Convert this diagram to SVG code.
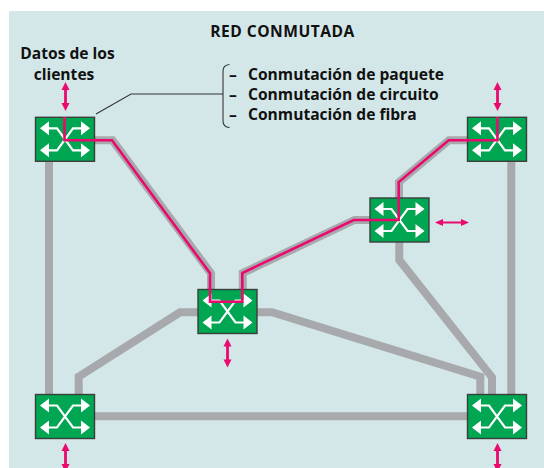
<svg xmlns="http://www.w3.org/2000/svg" xmlns:xlink="http://www.w3.org/1999/xlink" width="544" height="468" viewBox="0 0 544 468">
<style>
.t{font-family:"Open Sans","Liberation Sans",sans-serif;font-weight:700;fill:#111;font-size:15.6px}
.g{fill:none;stroke:#a7a9ac;stroke-width:8;stroke-linejoin:miter}
.p{fill:none;stroke:#ea0a6e;stroke-width:2.6}
.b{fill:#00a651;stroke:#3a3f3c;stroke-width:1.4}
.w{fill:none;stroke:#fff;stroke-width:2.2}
.h{fill:#fff}
.a{fill:none;stroke:#ea0a6e;stroke-width:2.8}
.ah{fill:#ea0a6e}
.k{fill:none;stroke:#333;stroke-width:1.1}
</style>
<defs>
<g id="sw">
<rect class="b" x="-29.5" y="-22" width="59" height="44"/>
<path class="w" d="M-17,-11H-8L8,11H17M-17,11H-8L8,-11H17"/>
<path class="h" d="M-25,-11L-16,-18V-4ZM25,-11L16,-18V-4ZM-25,11L-16,4V18ZM25,11L16,4V18Z"/>
</g>
<g id="va"><path class="a" d="M0,-10V10"/><path class="ah" d="M0,-14.5L4,-6.5H-4ZM0,14.5L4,6.5H-4Z"/></g>
<g id="ha"><path fill="none" stroke="#ea0a6e" stroke-width="2" d="M-12,0H12"/><path class="ah" d="M-17,0L-9,-3.4V3.4ZM17,0L9,-3.4V3.4Z"/></g>
</defs>
<rect x="9" y="11" width="535" height="457" fill="#d4e7e8"/>
<g id="connectors">
<path class="g" d="M49,161V395M511.3,161V395M94,416.3H467"/>
<path class="g" d="M78.7,395V376.7L180,312.3H198"/>
<path class="g" d="M257,312.3H272L480.3,376.7V395"/>
<path class="g" d="M399.3,242V260L492,377.3V395"/>
<path class="g" d="M94,140.3H112.5L211,273.3V290"/>
<path class="g" d="M242.8,290V273L354.5,220H370"/>
<path class="g" d="M399,198V182L449,140.3H467"/>
<path class="k" d="M96,114L131,94H223"/>
<path class="k" d="M229.5,64.5Q223,65 223,71V121Q223,127 229.5,127.5"/>
</g>
<g id="n1"><use xlink:href="#sw" href="#sw" x="65" y="139.3"/></g>
<g id="n2"><use xlink:href="#sw" href="#sw" x="497" y="139.3"/></g>
<g id="n3"><use xlink:href="#sw" href="#sw" x="399.5" y="220"/></g>
<g id="n4"><use xlink:href="#sw" href="#sw" x="227.5" y="311.5"/></g>
<g id="n5"><use xlink:href="#sw" href="#sw" x="65" y="416.5"/></g>
<g id="n6"><use xlink:href="#sw" href="#sw" x="497" y="416.5"/></g>
<g id="flow">
<path class="p" d="M64.5,117V140.3H112L210,273.3V301.7H242.3V273L353.7,220H398.7V182L448.7,140.3H497.5V117"/>
<use xlink:href="#va" href="#va" x="65.5" y="96.5"/>
<use xlink:href="#va" href="#va" x="497.5" y="96.5"/>
<use xlink:href="#va" href="#va" x="227.5" y="353"/>
<use xlink:href="#va" href="#va" x="65.5" y="457.5"/>
<use xlink:href="#va" href="#va" x="497.5" y="457.5"/>
<use xlink:href="#ha" href="#ha" x="452" y="222.5"/>
</g>
<text class="t" x="282.5" y="36.5" text-anchor="middle" style="letter-spacing:.5px">RED CONMUTADA</text>
<text class="t" x="67.5" y="59" text-anchor="middle">Datos de los</text>
<text class="t" x="64" y="79.5" text-anchor="middle">clientes</text>
<text class="t" x="229" y="79.6">–</text>
<text class="t" x="248" y="79.6">Conmutación de paquete</text>
<text class="t" x="229" y="99.6">–</text>
<text class="t" x="248" y="99.6">Conmutación de circuito</text>
<text class="t" x="229" y="119.6">–</text>
<text class="t" x="248" y="119.6">Conmutación de fibra</text>
</svg>
